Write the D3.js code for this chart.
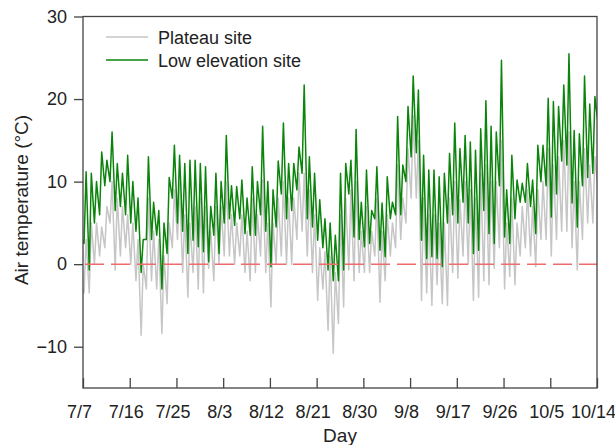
<!DOCTYPE html>
<html>
<head>
<meta charset="utf-8">
<script src="https://cdn.jsdelivr.net/npm/d3@7"></script>
<style>
  body { margin: 0; background: #fff; }
  svg text { font-family: "Liberation Sans", Arial, sans-serif; fill: #222; }
</style>
</head>
<body>
<svg id="chart" width="615" height="445"></svg>
<script>
// day index 0 = 7/7, 99 = 10/14
var tickDays = [0, 9, 18, 27, 36, 45, 54, 63, 72, 81, 90, 99];
var tickLabels = ["7/7", "7/16", "7/25", "8/3", "8/12", "8/21", "8/30", "9/8", "9/17", "9/26", "10/5", "10/14"];
var yTicks = [-10, 0, 10, 20, 30];

// daily minimum / maximum air temperature (°C)
var lowMin = [2.5, -0.7, 5, 6, 9.5, 10, 6.5, 7, 6, 5,
  4, -1, 3, 3, 3.5, -3, 1.3, 8, 5, 4,
  1.3, 2.9, 2.1, 1.5, 0.3, 3.5, 1.3, 5, 5.5, 4.7,
  5.5, 3.7, 3.5, 3.5, 6, 4, -0.3, 4.5, 8.5, 5.5,
  6.5, 9, 11, 5.5, 4.5, 2.9, 2, -0.7, -2, -2,
  -0.7, 8.5, 3.3, 3, 2.1, 2.5, 5.5, 1.7, 0.9, 5.5,
  6, 6, 10, 13, 13.5, 2.9, 0.7, 0.9, 0.7, -0.3,
  5, 6, 5, 7.5, 5, 1.3, 1.7, 6.5, 3.7, 2.5,
  9.5, 3.3, 2.5, 5.5, 7.5, 7.5, 7, 3.7, 10, 9.5,
  5.7, 8.5, 12.5, 12, 7.4, 4.5, 9.5, 10.5, 11, 17];
var lowMax = [11.2, 11, 10, 13.6, 12.6, 16, 12.2, 11, 13.2, 10,
  8, 3, 13, 7.5, 6.5, 5, 10.5, 14.4, 13.2, 12.2,
  12.6, 12.6, 12.2, 11.8, 7, 11, 10, 15.6, 9.5, 9.4,
  10.2, 8, 11.8, 10, 16.7, 10, 9, 12.5, 17.1, 12.2,
  12.2, 14.2, 21.7, 13, 11, 7.8, 5.5, 5, 3.5, 11,
  12.2, 12.6, 16.3, 7.5, 11.4, 6.5, 11.8, 7.4, 10.6, 7.5,
  17.9, 12, 19.1, 22.8, 21.1, 13.2, 11.4, 11.4, 10.6, 11,
  13.4, 17.1, 14, 15.6, 14.8, 13.8, 16.4, 19.8, 16.7, 16,
  24.7, 9, 13.2, 10.2, 9.8, 12.2, 10.2, 14.4, 14.4, 20.1,
  19.7, 19.1, 21.7, 25.5, 16.2, 15.8, 22.8, 19.4, 20.3, 20];
var plateauMin = [-3.5, -3.5, 0, 1, 2, 5, -0.7, 1, 2, 0,
  -2, -8.6, -3, -2, -3, -8.4, -4.8, 2, 3, -1,
  -4, -1, -3, -3.5, -0.5, -2, 0, 1, 1, 0,
  1, -1, -2, -1, 1, -1, -5.2, 0, 1, 0,
  0, 3, 4, 1, -1, -4.4, -3, -8, -10.8, -7.2,
  -5.2, -0.7, -2, -1, -1, -1, 1, -4.6, -2, 1,
  2, 3, 5, 8, 8, -4.4, -3.5, -5, -2.5, -4.8,
  -5, -1, -1.7, 1, 0, -4.4, -4, -2, -2.5, -0.5,
  2, -3, -1.5, -2.5, 1, 2, 1, -0.3, 3, 3,
  1, 3, 4, 4, 2, -0.7, 3, 5, 5, 9];
var plateauMax = [3, 5, 5, 4.5, 7, 10, 8, 7, 6, 5,
  3, 0, 8, 4, 3, 1, 5, 9, 9.8, 6,
  5, 7, 8, 7, 4, 7, 7, 10, 6, 5,
  6, 4, 8, 6, 10.2, 5, 5, 8, 10, 8,
  8, 11, 11, 9, 6, 2, 1.5, 1, -1, 6,
  8, 9, 10, 4, 7, 4, 8, 4, 6, 5,
  12, 8, 14, 18, 15, 8, 6, 6, 5, 5,
  8, 10, 7.8, 10, 9, 8, 11, 12, 10, 10,
  15, 5, 8, 5, 7, 9, 7, 9, 10, 14,
  12, 13, 15, 16, 10, 10, 14, 12, 13, 10];

var svg = d3.select("#chart");
var plotLeft = 83, plotRight = 597, plotTop = 16.5, plotBottom = 388;

var x = d3.scaleLinear().domain([0, 99]).range([plotLeft, plotRight]);
var y = d3.scaleLinear().domain([-15, 30]).range([plotBottom, plotTop]);

// daily series: minimum early in the day, maximum in the afternoon
function series(mins, maxs) {
  var pts = [];
  mins.forEach(function(m, i) {
    pts.push([i + 0.2, m]);
    pts.push([i + 0.6, maxs[i]]);
  });
  pts.unshift([0, mins[0] + 0.5]);
  return pts;
}

svg.append("clipPath").attr("id", "plotclip")
  .append("rect")
  .attr("x", plotLeft).attr("y", plotTop)
  .attr("width", plotRight - plotLeft).attr("height", plotBottom - plotTop);

var line = d3.line()
  .x(function(d) { return x(d[0]); })
  .y(function(d) { return y(d[1]); });

var plot = svg.append("g").attr("clip-path", "url(#plotclip)");

plot.append("path")
  .datum(series(plateauMin, plateauMax))
  .attr("d", line)
  .attr("fill", "none")
  .attr("stroke", "#c6c6c6")
  .attr("stroke-width", 1.5)
  .attr("stroke-linejoin", "round");

plot.append("path")
  .datum(series(lowMin, lowMax))
  .attr("d", line)
  .attr("fill", "none")
  .attr("stroke", "#0b840b")
  .attr("stroke-width", 1.5)
  .attr("stroke-linejoin", "round");

plot.append("line")
  .attr("x1", plotLeft).attr("x2", plotRight)
  .attr("y1", y(0)).attr("y2", y(0))
  .attr("stroke", "#f06b6b")
  .attr("stroke-width", 1.5)
  .attr("stroke-dasharray", "19,7")
  .attr("stroke-dashoffset", -2);

// frame
svg.append("rect")
  .attr("x", plotLeft).attr("y", plotTop)
  .attr("width", plotRight - plotLeft).attr("height", plotBottom - plotTop)
  .attr("fill", "none")
  .attr("stroke", "#444")
  .attr("stroke-width", 1.3);

// y axis
var yAxis = d3.axisLeft(y).tickValues(yTicks).tickSize(9).tickPadding(7)
  .tickFormat(function(d) { return d < 0 ? "\u2212" + Math.abs(d) : d; });
var gy = svg.append("g").attr("transform", "translate(" + plotLeft + ",0)").call(yAxis);
gy.select(".domain").remove();
gy.selectAll(".tick line").attr("stroke", "#444").attr("stroke-width", 1.3);
gy.selectAll(".tick text").attr("font-size", 18).attr("fill", "#222")
  .attr("font-family", "Liberation Sans, Arial, sans-serif");

// x axis, ticks pointing inward
var xAxis = d3.axisBottom(x).tickValues(tickDays).tickSize(-10).tickPadding(17)
  .tickFormat(function(d, i) { return tickLabels[i]; });
var gx = svg.append("g").attr("transform", "translate(0," + plotBottom + ")").call(xAxis);
gx.select(".domain").remove();
gx.selectAll(".tick line").attr("stroke", "#444").attr("stroke-width", 1.3);
gx.selectAll(".tick text").attr("font-size", 18).attr("fill", "#222")
  .attr("font-family", "Liberation Sans, Arial, sans-serif")
  .attr("dx", -4);

svg.append("text")
  .attr("x", 340).attr("y", 442)
  .attr("text-anchor", "middle")
  .attr("font-size", 19)
  .text("Day");

svg.append("text")
  .attr("transform", "translate(28,200) rotate(-90)")
  .attr("text-anchor", "middle")
  .attr("font-size", 19)
  .text("Air temperature (\u00B0C)");

// legend
var legend = [
  { label: "Plateau site", color: "#c6c6c6" },
  { label: "Low elevation site", color: "#0b840b" }
];
var lg = svg.append("g").selectAll("g").data(legend).enter().append("g")
  .attr("transform", function(d, i) { return "translate(0," + (37 + i * 23) + ")"; });
lg.append("line")
  .attr("x1", 106).attr("x2", 148)
  .attr("stroke", function(d) { return d.color; })
  .attr("stroke-width", 1.5);
lg.append("text")
  .attr("x", 158).attr("y", 6.5)
  .attr("font-size", 18)
  .text(function(d) { return d.label; });
</script>
</body>
</html>
